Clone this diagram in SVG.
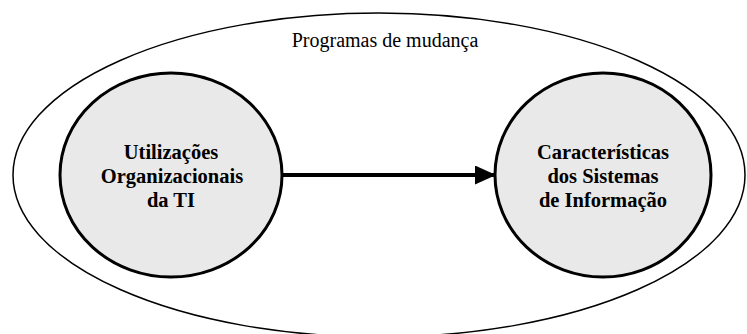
<svg xmlns="http://www.w3.org/2000/svg" width="747" height="334" viewBox="0 0 747 334">
  <style>
    .outer { fill: none; stroke: #000; stroke-width: 1.5; }
    .node { fill: #e9e9e9; stroke: #000; stroke-width: 3; }
    .lbl { font-family: "Liberation Serif", "Times New Roman", serif; font-size: 20.5px; font-weight: bold; text-anchor: middle; fill: #000; }
    .title { font-family: "Liberation Serif", "Times New Roman", serif; font-size: 20px; text-anchor: middle; fill: #000; }
    .conn { stroke: #000; stroke-width: 4; fill: none; }
  </style>
  <defs>
    <marker id="arrow" markerUnits="userSpaceOnUse" markerWidth="22" markerHeight="20" refX="21" refY="9.5" orient="auto">
      <path d="M0,0 L21,9.5 L0,19 Z" fill="#000"/>
    </marker>
  </defs>
  <rect width="747" height="334" fill="#fff"/>
  <g id="programas">
    <ellipse class="outer" cx="379" cy="175" rx="366" ry="162"/>
    <text class="title" x="385" y="47">Programas de mudança</text>
  </g>
  <g id="connectors">
    <line class="conn" x1="282" y1="175" x2="496" y2="175" marker-end="url(#arrow)"/>
  </g>
  <g id="utilizacoes">
    <ellipse class="node" cx="171" cy="175" rx="111" ry="102"/>
    <text class="lbl" x="171" y="159">Utilizações</text>
    <text class="lbl" x="172" y="183">Organizacionais</text>
    <text class="lbl" x="171" y="207">da TI</text>
  </g>
  <g id="caracteristicas">
    <ellipse class="node" cx="603" cy="175" rx="108" ry="102"/>
    <text class="lbl" x="603" y="159">Características</text>
    <text class="lbl" x="603" y="183">dos Sistemas</text>
    <text class="lbl" x="603" y="207">de Informação</text>
  </g>
</svg>
